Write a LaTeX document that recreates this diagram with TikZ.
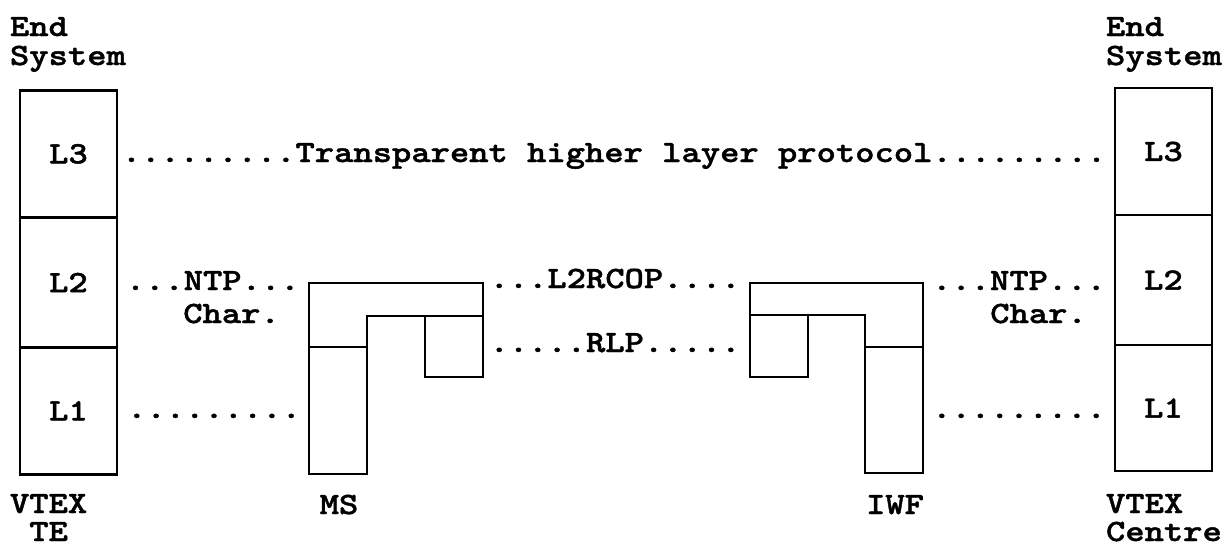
\documentclass[tikz,border=0pt]{standalone}
\usepackage{fontspec}
\newfontfamily\cour{lmmonolt10-bold.otf}[FakeStretch=1.186, FakeBold=1.3]
\begin{document}
\begin{tikzpicture}[x=1pt,y=-1pt,
  txt/.style={font=\cour\fontsize{31}{29.5}\selectfont, inner sep=0pt, outer sep=0pt},
  layer/.style={txt, draw, line width=2.9pt, minimum width=97pt},
  frame/.style={draw, line width=2.9pt, line join=miter}]
\useasboundingbox (0,0) rectangle (1226,546);

% left end system
\node[layer, minimum height=127.7pt] (lL3) at (68.5,153.9) {L3};
\node[layer, minimum height=129.6pt] (lL2) at (68.5,282.5) {L2};
\node[layer, minimum height=126.7pt] (lL1) at (68.5,410.7) {L1};

% right end system
\node[layer, minimum height=127pt] (rL3) at (1163.5,151.5) {L3};
\node[layer, minimum height=130pt] (rL2) at (1163.5,280) {L2};
\node[layer, minimum height=126pt] (rL1) at (1163.5,408) {L1};

% MS
\draw[frame] (309,283) -- (483,283) -- (483,377) -- (425,377) -- (425,316)
  -- (367,316) -- (367,474) -- (309,474) -- cycle;
\draw[frame] (367,316) -- (483,316);
\draw[frame] (309,347) -- (367,347);

% IWF
\draw[frame] (750,283) -- (923,283) -- (923,473) -- (865,473) -- (865,315)
  -- (808,315) -- (808,377) -- (750,377) -- cycle;
\draw[frame] (750,315) -- (865,315);
\draw[frame] (865,347) -- (923,347);

% dotted protocol texts
\node[txt, anchor=base] (top) at (614,162) {.........Transparent higher layer protocol.........};
\node[txt, anchor=base] (lntp) at (212.7,290) {...NTP...};
\node[txt, anchor=base] (lchar) at (231.5,323) {Char.};
\node[txt, anchor=base] (rntp) at (1019,290) {...NTP...};
\node[txt, anchor=base] (rchar) at (1038.5,323) {Char.};
\node[txt, anchor=base] (l2rcop) at (615,288) {...L2RCOP....};
\node[txt, anchor=base] (rlp) at (615,352) {.....RLP.....};
\node[txt, anchor=base] (ldots) at (214,418) {.........};
\node[txt, anchor=base] (rdots) at (1019,418) {.........};

% captions
\node[txt, anchor=base west] (lend) at (10,36) {End};
\node[txt, anchor=base west] (lsys) at (10,65) {System};
\node[txt, anchor=base west] (rend) at (1106,36) {End};
\node[txt, anchor=base west] (rsys) at (1106,65) {System};
\node[txt, anchor=base west] (lvtex) at (10,513) {VTEX};
\node[txt, anchor=base] (lte) at (48.6,541) {TE};
\node[txt, anchor=base west] (rvtex) at (1106,513) {VTEX};
\node[txt, anchor=base west] (rcentre) at (1106,541) {Centre};
\node[txt, anchor=base] (ms) at (339,514) {MS};
\node[txt, anchor=base] (iwf) at (895,514) {IWF};
\end{tikzpicture}
\end{document}
